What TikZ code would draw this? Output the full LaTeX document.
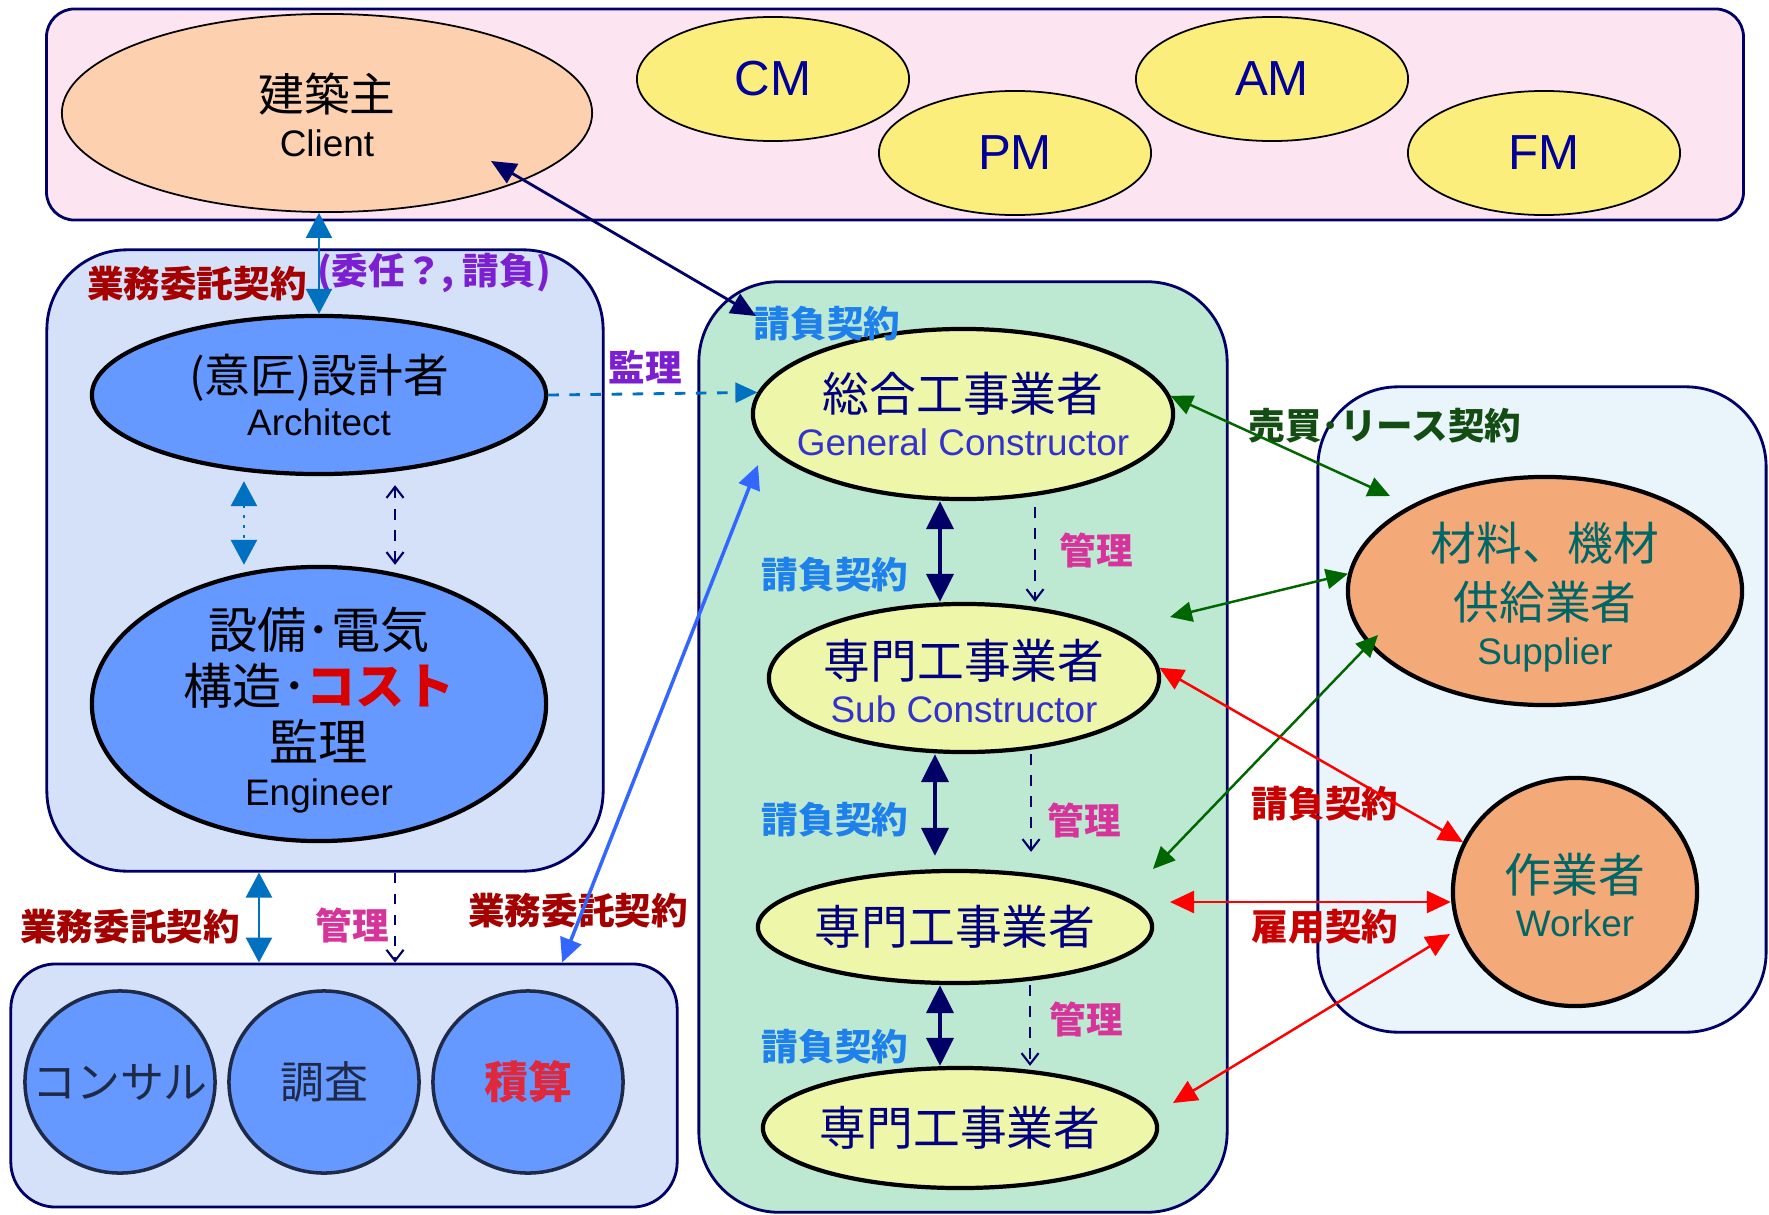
\documentclass[tikz,border=0pt]{standalone}
\usepackage{fontspec}
\setmainfont{Liberation Sans}
\newfontfamily\jp{Noto Sans CJK JP}
\usetikzlibrary{shapes,arrows.meta,positioning,calc}

\definecolor{navyline}{RGB}{0,0,102}
\definecolor{pinkbg}{RGB}{252,228,240}
\definecolor{peach}{RGB}{253,208,176}
\definecolor{mgold}{RGB}{252,238,124}
\definecolor{mtext}{RGB}{0,0,153}
\definecolor{lblue}{RGB}{213,225,248}
\definecolor{cblue}{RGB}{102,153,255}
\definecolor{mint}{RGB}{189,232,210}
\definecolor{lime}{RGB}{238,246,170}
\definecolor{gctext}{RGB}{0,0,128}
\definecolor{entext}{RGB}{51,51,204}
\definecolor{icebg}{RGB}{234,244,251}
\definecolor{orangef}{RGB}{244,170,120}
\definecolor{tealtext}{RGB}{0,102,102}
\definecolor{darkred}{RGB}{165,0,0}
\definecolor{purp}{RGB}{123,31,208}
\definecolor{mag}{RGB}{214,51,155}
\definecolor{kblue}{RGB}{30,128,235}
\definecolor{arrblue}{RGB}{0,112,192}
\definecolor{brblue}{RGB}{51,102,255}
\definecolor{dgreen}{RGB}{0,102,0}
\definecolor{lgreen}{RGB}{20,77,20}
\definecolor{cred}{RGB}{200,0,0}
\definecolor{circline}{RGB}{31,42,72}

\tikzset{
  grp/.style={draw=navyline, line width=0.8pt, inner sep=0pt},
  mgr/.style={ellipse, draw=black, line width=0.5pt, fill=mgold, inner sep=0pt,
    minimum width=2.72cm, minimum height=1.24cm, text=mtext,
    font=\fontsize{14}{16}\selectfont},
  party/.style={ellipse, draw=black, line width=1.2pt, inner sep=0pt},
  circ/.style={ellipse, draw=circline, line width=1pt, fill=cblue, inner sep=0pt,
    minimum width=1.9cm, minimum height=1.82cm},
  ptext/.style={align=center, inner sep=0pt},
  lab/.style={font=\jp\bfseries\fontsize{10.4}{12}\selectfont, inner sep=0pt},
  ukeoi/.style={lab, text=kblue},
  kanri/.style={lab, text=mag},
  solid2/.style={navyline, line width=1pt, >={Triangle[length=0.28cm,width=0.27cm]}, <->},
  mgmt/.style={navyline, dashed, line width=0.6pt, >={Straight Barb[length=0.11cm,width=0.17cm]}},
  bigblue/.style={arrblue, line width=0.8pt, >={Triangle[length=0.25cm,width=0.26cm]}, <->},
  grn/.style={dgreen, line width=0.7pt, >={Triangle[length=0.22cm,width=0.2cm]}, <->},
  rd/.style={red, line width=0.7pt, >={Triangle[length=0.24cm,width=0.22cm]}, <->}
}

\begin{document}
\begin{tikzpicture}[x=0.01cm, y=-0.01cm]
    \useasboundingbox (0,0) rectangle (1769,1215);
    \fill[white] (0,0) rectangle (1769,1215);

    % Groups
    \node[grp, fill=pinkbg, rounded corners=0.28cm, minimum width=16.96cm, minimum height=2.11cm] (top) at (895,114.5) {};
    \node[grp, fill=lblue, rounded corners=0.8cm, minimum width=5.56cm, minimum height=6.21cm] (lbox) at (325,560.5) {};
    \node[grp, fill=lblue, rounded corners=0.45cm, minimum width=6.66cm, minimum height=2.43cm] (bbox) at (344,1085.5) {};
    \node[grp, fill=mint, rounded corners=0.8cm, minimum width=5.28cm, minimum height=9.30cm] (mbox) at (963,747) {};
    \node[grp, fill=icebg, rounded corners=0.8cm, minimum width=4.48cm, minimum height=6.45cm] (rbox) at (1542,709.5) {};

    % Client side
    \node[party, line width=0.5pt, fill=peach, minimum width=5.30cm, minimum height=1.98cm] (client) at (327,113) {};
    \node[ptext, font=\jp\fontsize{13}{14}\selectfont] (client-t) at (327,115) {建築主\\[-1pt]{\rmfamily\fontsize{10.5}{12}\selectfont Client}};
    \node[mgr] (cm) at (773,79) {CM};
    \node[mgr] (pm) at (1015,153) {PM};
    \node[mgr] (am) at (1272,79) {AM};
    \node[mgr] (fm) at (1544,153) {FM};

    % Design side
    \node[party, fill=cblue, minimum width=4.54cm, minimum height=1.58cm] (arch) at (319,395) {};
    \node[ptext, font=\jp\fontsize{13}{13.7}\selectfont] (arch-t) at (arch) {(意匠)設計者\\[-1.6pt]{\rmfamily\fontsize{10.5}{12}\selectfont Architect}};
    \node[party, fill=cblue, minimum width=4.54cm, minimum height=2.74cm] (eng) at (319,704) {};
    \node[ptext, font=\jp\fontsize{14}{16}\selectfont] (eng-t) at (319,710) {設備･電気\\構造･{\color{red!85!black}\bfseries コスト}\\監理\\[-3.2pt]{\rmfamily\fontsize{10.5}{12}\selectfont Engineer}};
    \node[circ] (consul) at (120,1082) {};
    \node[circ] (chosa) at (324,1082) {};
    \node[circ] (sekisan) at (528,1082) {};
    \node[ptext, text=circline, font=\jp\fontsize{12.5}{14}\selectfont] (consul-t) at (consul) {コンサル};
    \node[ptext, text=circline, font=\jp\fontsize{12.5}{14}\selectfont] (chosa-t) at (chosa) {調査};
    \node[ptext, text={rgb,255:red,224;green,40;blue,60}, font=\jp\bfseries\fontsize{12.5}{14}\selectfont] (sekisan-t) at (sekisan) {積算};

    % Construction side
    \node[party, fill=lime, minimum width=4.20cm, minimum height=1.70cm] (gc) at (963,414) {};
    \node[ptext, text=gctext, font=\jp\fontsize{13.3}{13.7}\selectfont] (gc-t) at (gc) {総合工事業者\\[-1.3pt]{\rmfamily\fontsize{10.5}{12}\selectfont\color{entext}General Constructor}};
    \node[party, fill=lime, minimum width=3.90cm, minimum height=1.48cm] (sub) at (964,678) {};
    \node[ptext, text=gctext, font=\jp\fontsize{13.3}{13.4}\selectfont] (sub-t) at (964,681) {専門工事業者\\[-1pt]{\rmfamily\fontsize{10.5}{12}\selectfont\color{entext}Sub Constructor}};
    \node[party, fill=lime, minimum width=3.94cm, minimum height=1.12cm] (sub2) at (955,927) {};
    \node[ptext, text=gctext, font=\jp\fontsize{13.3}{14}\selectfont] (sub2-t) at (sub2) {専門工事業者};
    \node[party, fill=lime, minimum width=3.94cm, minimum height=1.20cm] (sub3) at (960,1128) {};
    \node[ptext, text=gctext, font=\jp\fontsize{13.3}{14}\selectfont] (sub3-t) at (sub3) {専門工事業者};

    % Supply side
    \node[party, fill=orangef, minimum width=3.94cm, minimum height=2.28cm] (sup) at (1545,591) {};
    \node[ptext, text=tealtext, font=\jp\fontsize{13}{16.6}\selectfont] (sup-t) at (1545,597) {材料、機材\\供給業者\\[-3.8pt]{\rmfamily\fontsize{10.5}{12}\selectfont Supplier}};
    \node[party, fill=orangef, minimum width=2.44cm, minimum height=2.28cm] (wkr) at (1575,892) {};
    \node[ptext, text=tealtext, font=\jp\fontsize{13.3}{14}\selectfont] (wkr-t) at (1575,895) {作業者\\[-1.6pt]{\rmfamily\fontsize{10.5}{12}\selectfont Worker}};

    % Labels
    \node[lab, text=darkred] (l-gyomu1) at (197,284) {業務委託契約};
    \node[lab, text=purp] (l-inin) at (434,273) {(委任？, 請負)};
    \node[lab, text=darkred] (l-gyomu2) at (130,927) {業務委託契約};
    \node[kanri] (l-kanri0) at (352,925) {管理};
    \node[lab, text=darkred] (l-gyomu3) at (578,911) {業務委託契約};
    \node[lab, text=purp] (l-kanri) at (645,367) {監理};
    \node[ukeoi] (l-uke0) at (827,324) {請負契約};
    \node[ukeoi] (l-uke1) at (835,575) {請負契約};
    \node[kanri] (l-kan1) at (1096,550) {管理};
    \node[ukeoi] (l-uke2) at (835,820) {請負契約};
    \node[kanri] (l-kan2) at (1084,820) {管理};
    \node[ukeoi] (l-uke3) at (835,1047) {請負契約};
    \node[kanri] (l-kan3) at (1086,1019) {管理};
    \node[lab, text=lgreen] (l-baibai) at (1385,426) {売買･リース契約};
    \node[lab, text=cred] (l-uke4) at (1325,804) {請負契約};
    \node[lab, text=cred] (l-koyo) at (1325,927) {雇用契約};

    % Free ends
    \coordinate (cl-in) at (491,161);
    \coordinate (mb-in) at (756,316);
    \coordinate (gc-in) at (758,465);
    \coordinate (g1) at (1390,496);
    \coordinate (g2) at (1170,617);
    \coordinate (g3a) at (1378,635);
    \coordinate (g3b) at (1153,869);
    \coordinate (r2) at (1170,902);
    \coordinate (r3a) at (1450,934);
    \coordinate (r3b) at (1173,1103);

    % Contracts, design side
    \draw[bigblue, line width=0.6pt] (arch.north |- client.south) -- (arch.north);
    \draw[bigblue, dotted, shorten <=0.05cm] ([xshift=-0.75cm]arch.south) -- ([xshift=-0.75cm]eng.north);
    \draw[mgmt, <->, shorten <=0.09cm] ([xshift=0.76cm]arch.south) -- ([xshift=0.76cm]eng.north);
    \draw[bigblue] ([xshift=-0.66cm]lbox.south) -- ([xshift=-0.66cm]lbox.south |- bbox.north);
    \draw[mgmt, ->] ([xshift=0.70cm]lbox.south) -- ([xshift=0.70cm]lbox.south |- bbox.north);
    \draw[brblue, line width=1pt, >={Triangle[length=0.24cm,width=0.22cm]}, <->] (gc-in) -- ([xshift=2.18cm]bbox.north);
    \draw[navyline, line width=0.8pt, >={Triangle[length=0.25cm,width=0.22cm]}, <->] (cl-in) -- (mb-in);
    \draw[arrblue, dashed, line width=0.8pt, >={Triangle[length=0.22cm,width=0.2cm]}, ->] (arch.east) -- (gc.174);

    % Contracts, construction side
    \draw[solid2] ([xshift=-0.23cm]gc.south) -- ([xshift=-0.23cm]gc.south |- sub.north);
    \draw[mgmt, ->, shorten <=0.06cm] ([xshift=0.72cm]gc.south) -- ([xshift=0.72cm]gc.south |- sub.north);
    \draw[solid2, shorten >=0.13cm] ([xshift=-0.29cm]sub.south) -- ([xshift=-0.29cm]sub.south |- sub2.north);
    \draw[mgmt, ->, shorten >=0.17cm] ([xshift=0.67cm]sub.south) -- ([xshift=0.67cm]sub.south |- sub2.north);
    \draw[solid2] ([xshift=-0.15cm]sub2.south) -- ([xshift=-0.15cm]sub2.south |- sub3.north);
    \draw[mgmt, ->] ([xshift=0.75cm]sub2.south) -- ([xshift=0.75cm]sub2.south |- sub3.north);

    % Supply and labour
    \draw[grn] (gc.5) -- (g1);
    \draw[grn] (sup.175) -- (g2);
    \draw[grn] (g3a) -- (g3b);
    \draw[rd] (sub.3) -- (wkr.156);
    \draw[rd] (r2) -- (r2 -| wkr.west);
    \draw[rd] (r3a) -- (r3b);
\end{tikzpicture}
\end{document}
